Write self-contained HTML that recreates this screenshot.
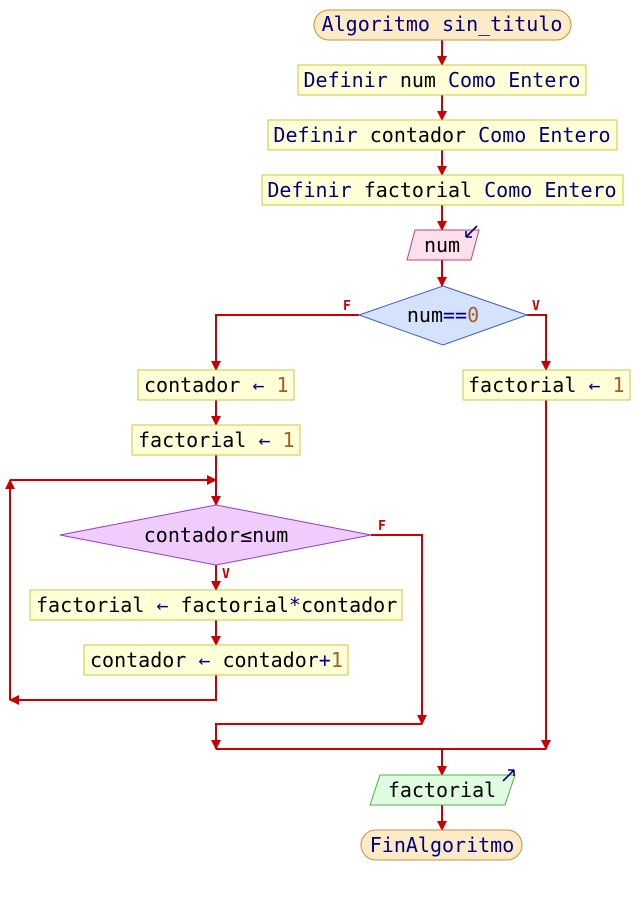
<!DOCTYPE html>
<html><head><meta charset="utf-8"><style>
html,body{margin:0;padding:0;background:#fff;}
svg text{font-family:"DejaVu Sans Mono","Liberation Mono",monospace;font-size:20px;}
.k{fill:#000080}.i{fill:#000}.n{fill:#a0602a}
</style></head><body>
<svg width="640" height="895" viewBox="0 0 640 895" xmlns="http://www.w3.org/2000/svg">
<defs><marker id="a" markerWidth="10" markerHeight="10" refX="9" refY="5" orient="auto" markerUnits="userSpaceOnUse"><path d="M0,0 L10,5 L0,10 z" fill="#cc0000"/></marker></defs>
<g stroke="#cc0000" stroke-width="2" fill="none">
<line x1="442" y1="40" x2="442" y2="65" marker-end="url(#a)"/>
<line x1="442" y1="95" x2="442" y2="120" marker-end="url(#a)"/>
<line x1="442" y1="150" x2="442" y2="175" marker-end="url(#a)"/>
<line x1="442" y1="205" x2="442" y2="230" marker-end="url(#a)"/>
<line x1="442" y1="260" x2="442" y2="286" marker-end="url(#a)"/>
<polyline points="359,315 216,315 216,370" marker-end="url(#a)"/>
<polyline points="527,315 546,315 546,370" marker-end="url(#a)"/>
<line x1="216" y1="400" x2="216" y2="425" marker-end="url(#a)"/>
<line x1="216" y1="455" x2="216" y2="505" marker-end="url(#a)"/>
<line x1="216" y1="565" x2="216" y2="590" marker-end="url(#a)"/>
<line x1="216" y1="620" x2="216" y2="645" marker-end="url(#a)"/>
<polyline points="216,675 216,700 10,700" marker-end="url(#a)"/>
<polyline points="10,700 10,480" marker-end="url(#a)"/>
<line x1="10" y1="480" x2="216" y2="480" marker-end="url(#a)"/>
<polyline points="371,535 422,535 422,724" marker-end="url(#a)"/>
<polyline points="422,724 216,724 216,749" marker-end="url(#a)"/>
<polyline points="546,400 546,749" marker-end="url(#a)"/>
<line x1="216" y1="749" x2="546" y2="749"/>
<line x1="442" y1="749" x2="442" y2="775" marker-end="url(#a)"/>
<line x1="442" y1="805" x2="442" y2="830" marker-end="url(#a)"/>
</g>
<g fill="#cc0000">
<text x="343" y="310" style="font-size:13px;font-weight:bold">F</text>
<text x="532" y="310" style="font-size:13px;font-weight:bold">V</text>
<text x="378" y="530" style="font-size:13px;font-weight:bold">F</text>
<text x="222" y="578" style="font-size:13px;font-weight:bold">V</text>
</g>
<rect x="314" y="10" width="257" height="30" rx="15" fill="#fdebc8" stroke="#c89040"/>
<text x="442" y="31" text-anchor="middle" class="k">Algoritmo sin_titulo</text>
<g fill="#ffffd8" stroke="#c8c840">
<rect x="298" y="65" width="288" height="30"/>
<rect x="268" y="120" width="349" height="30"/>
<rect x="262" y="175" width="361" height="30"/>
<rect x="138" y="370" width="156" height="30"/>
<rect x="132" y="425" width="168" height="30"/>
<rect x="463" y="370" width="167" height="30"/>
<rect x="30" y="590" width="372" height="30"/>
<rect x="84" y="645" width="264" height="30"/>
</g>
<text x="442" y="87" text-anchor="middle"><tspan class="k">Definir </tspan><tspan class="i">num </tspan><tspan class="k">Como Entero</tspan></text>
<text x="442" y="142" text-anchor="middle"><tspan class="k">Definir </tspan><tspan class="i">contador </tspan><tspan class="k">Como Entero</tspan></text>
<text x="442" y="197" text-anchor="middle"><tspan class="k">Definir </tspan><tspan class="i">factorial </tspan><tspan class="k">Como Entero</tspan></text>
<polygon points="415,230 479,230 471,260 407,260" fill="#fde0ec" stroke="#c04080"/>
<text x="442" y="252" text-anchor="middle" class="i">num</text>
<path d="M477,226 L466,237 M466,237 L466,231 M466,237 L472,237" stroke="#000080" stroke-width="1.6" fill="none"/>
<polygon points="443,286 527,315 443,345 359,315" fill="#d4e2fc" stroke="#4060c0"/>
<text x="443" y="322" text-anchor="middle"><tspan class="i">num</tspan><tspan class="k">==</tspan><tspan class="n">0</tspan></text>
<text x="144" y="392"><tspan class="i">contador </tspan><tspan class="k">← </tspan><tspan class="n">1</tspan></text>
<text x="138" y="447"><tspan class="i">factorial </tspan><tspan class="k">← </tspan><tspan class="n">1</tspan></text>
<text x="468" y="392"><tspan class="i">factorial </tspan><tspan class="k">← </tspan><tspan class="n">1</tspan></text>
<polygon points="216,505 371,535 216,565 60,535" fill="#f0ccfc" stroke="#9040c0"/>
<text x="216" y="542" text-anchor="middle" class="i">contador≤num</text>
<text x="36" y="612"><tspan class="i">factorial </tspan><tspan class="k">← </tspan><tspan class="i">factorial</tspan><tspan class="k">*</tspan><tspan class="i">contador</tspan></text>
<text x="90" y="667"><tspan class="i">contador </tspan><tspan class="k">← </tspan><tspan class="i">contador</tspan><tspan class="k">+</tspan><tspan class="n">1</tspan></text>
<polygon points="380,775 515,775 505,805 370,805" fill="#e0fce0" stroke="#50b050"/>
<text x="442" y="797" text-anchor="middle" class="i">factorial</text>
<path d="M503,781 L514,770 M514,770 L508,770 M514,770 L514,776" stroke="#000080" stroke-width="1.6" fill="none"/>
<rect x="361" y="830" width="161" height="30" rx="15" fill="#fdebc8" stroke="#c89040"/>
<text x="442" y="852" text-anchor="middle" class="k">FinAlgoritmo</text>
</svg>
</body></html>
